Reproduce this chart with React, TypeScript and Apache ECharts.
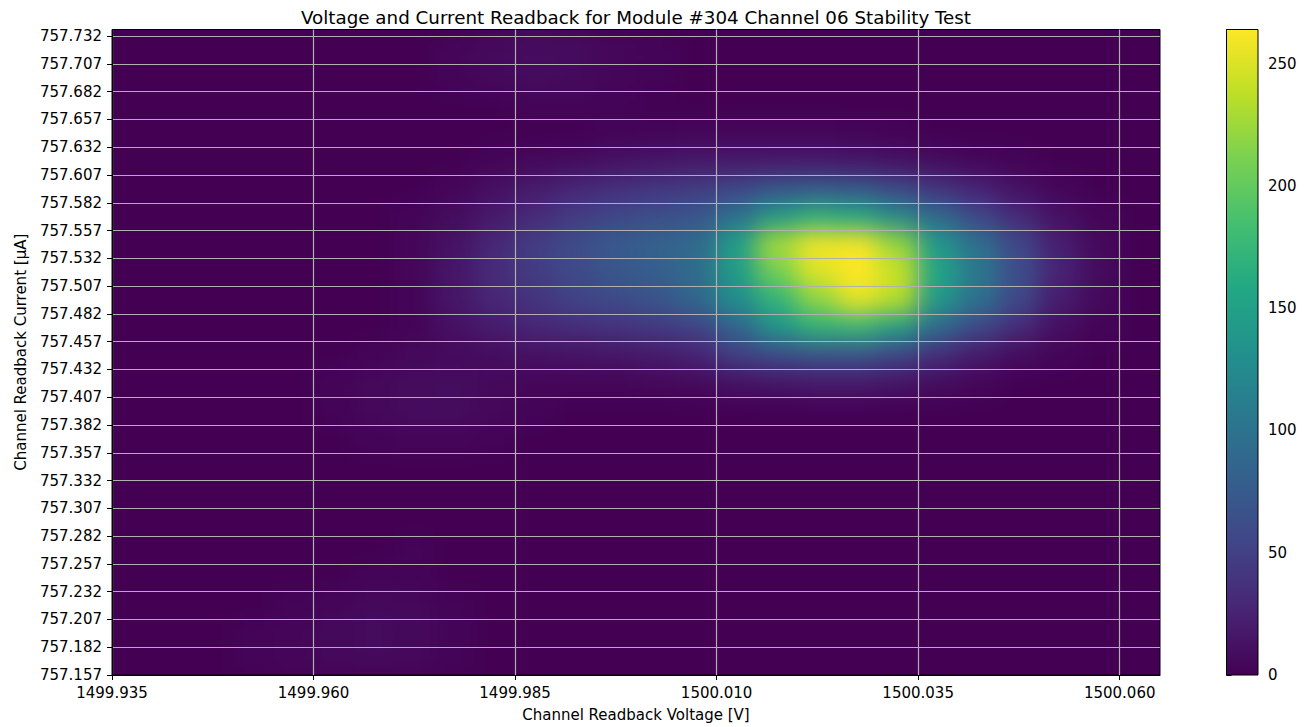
import React, { useEffect, useRef } from "react";
import * as echarts from "echarts";

// ---------- data ----------
const X_MIN = 1499.935;
const X_MAX = 1500.065;
const Y_MIN = 757.157;
const Y_MAX = 757.738;

const xTicks = [1499.935, 1499.96, 1499.985, 1500.01, 1500.035, 1500.06];
const yTicks = [
  757.157, 757.182, 757.207, 757.232, 757.257, 757.282, 757.307, 757.332,
  757.357, 757.382, 757.407, 757.432, 757.457, 757.482, 757.507, 757.532,
  757.557, 757.582, 757.607, 757.632, 757.657, 757.682, 757.707, 757.732,
];
const cbTicks = [0, 50, 100, 150, 200, 250];
const CB_MAX = 264;

// voltage bin centres [V]
const voltageBins = [
  1499.9375, 1499.9425, 1499.9475, 1499.9525, 1499.9575, 1499.9625, 1499.9675,
  1499.9725, 1499.9775, 1499.9825, 1499.9875, 1499.9925, 1499.9975, 1500.0025,
  1500.0075, 1500.0125, 1500.0175, 1500.0225, 1500.0275, 1500.0325, 1500.0375,
  1500.0425, 1500.0475, 1500.0525, 1500.0575, 1500.0625,
];
// current bin centres [uA], bottom to top
const currentBins = [
  757.1695, 757.1945, 757.2195, 757.2445, 757.2695, 757.2945, 757.3195,
  757.3445, 757.3695, 757.3945, 757.4195, 757.4445, 757.4695, 757.4945,
  757.5195, 757.5445, 757.5695, 757.5945, 757.6195, 757.6445, 757.6695,
  757.6945, 757.7195, 757.7445,
];
// counts, rows listed from top (757.7445) to bottom (757.1695)
const counts = [
  [0,0,0,0,0,0,0,0,0,4,5,4,0,0,0,0,0,0,0,0,0,0,0,0,0,0],
  [0,0,0,0,0,0,0,0,4,7,9,8,5,3,0,0,0,0,0,0,0,0,0,0,0,0],
  [0,0,0,0,0,0,0,0,3,6,8,7,4,2,0,0,0,0,0,0,0,0,0,0,0,0],
  [0,0,0,0,0,0,0,0,0,0,3,3,2,0,0,0,0,0,0,0,0,0,0,0,0,0],
  [0,0,0,0,0,0,0,0,0,0,0,0,2,3,4,4,4,4,3,2,0,0,0,0,0,0],
  [0,0,0,0,0,0,0,0,0,3,5,8,12,15,17,18,18,18,16,12,8,4,2,0,0,0],
  [0,0,0,0,0,0,0,0,4,11,20,29,36,42,46,56,70,75,72,58,40,26,12,4,0,0],
  [0,0,0,0,0,0,0,3,9,18,32,46,57,64,70,98,142,166,158,124,90,57,31,12,4,0],
  [0,0,0,0,0,0,0,4,13,30,48,62,74,82,92,148,228,260,262,222,140,98,57,23,6,0],
  [0,0,0,0,0,0,0,4,16,32,46,58,70,78,92,145,208,250,264,242,155,104,62,26,8,0],
  [0,0,0,0,0,0,0,3,16,28,40,52,60,68,88,128,170,218,254,234,140,98,57,21,6,0],
  [0,0,0,0,0,0,0,3,12,20,28,34,38,43,52,84,135,168,172,145,90,57,31,10,3,0],
  [0,0,0,0,0,0,3,5,6,8,11,13,15,19,25,48,60,66,66,54,33,18,8,3,0,0],
  [0,0,0,0,0,3,5,8,9,6,4,4,4,5,6,12,15,18,18,14,8,4,0,0,0,0],
  [0,0,0,0,0,2,5,8,8,5,2,0,0,0,0,0,0,0,0,0,0,0,0,0,0,0],
  [0,0,0,0,0,0,3,4,4,2,0,0,0,0,0,0,0,0,0,0,0,0,0,0,0,0],
  [0,0,0,0,0,0,0,0,0,0,0,0,0,0,0,0,0,0,0,0,0,0,0,0,0,0],
  [0,0,0,0,0,0,0,0,0,0,0,0,0,0,0,0,0,0,0,0,0,0,0,0,0,0],
  [0,0,0,0,0,0,0,0,0,0,0,0,0,0,0,0,0,0,0,0,0,0,0,0,0,0],
  [0,0,0,0,0,0,0,2,0,0,0,0,0,0,0,0,0,0,0,0,0,0,0,0,0,0],
  [0,0,0,0,0,0,3,3,0,0,0,0,0,0,0,0,0,0,0,0,0,0,0,0,0,0],
  [0,0,0,0,2,4,6,5,2,0,0,0,0,0,0,0,0,0,0,0,0,0,0,0,0,0],
  [0,0,0,2,4,6,8,6,3,0,0,0,0,0,0,0,0,0,0,0,0,0,0,0,0,0],
  [0,0,0,2,4,5,6,5,2,0,0,0,0,0,0,0,0,0,0,0,0,0,0,0,0,0],
];

const TITLE = "Voltage and Current Readback for Module #304 Channel 06 Stability Test";
const X_NAME = "Channel Readback Voltage [V]";
const Y_NAME = "Channel Readback Current [μA]";

// ---------- style / layout ----------
const VIRIDIS = [
  "#440154", "#482475", "#414487", "#355f8d", "#2a788e", "#21918c",
  "#22a884", "#44bf70", "#7ad151", "#bddf26", "#fde725",
];
const W = 1314;
const H = 727;
const PLOT = { left: 112, top: 29.5, width: 1048, height: 645.5 };
const CBAR = { left: 1226.5, top: 29.5, width: 31.5, height: 645.5 };
const FONT = "DejaVu Sans";
const BLUR = 12;

export default function App() {
  const heatRef = useRef<HTMLDivElement>(null);
  const axesRef = useRef<HTMLDivElement>(null);

  useEffect(() => {
    if (!heatRef.current || !axesRef.current) return;
    const heat = echarts.init(heatRef.current, null, { renderer: "svg" });
    const axes = echarts.init(axesRef.current, null, { renderer: "svg" });

    const pxPerY = PLOT.height / (Y_MAX - Y_MIN);
    const rowStep = currentBins[1] - currentBins[0];
    const cellsHeight = currentBins.length * rowStep * pxPerY;
    const cellsTop = PLOT.top + PLOT.height - cellsHeight;

    const nRows = counts.length;
    const data: number[][] = [];
    counts.forEach((row, r) => {
      row.forEach((v, c) => data.push([c, nRows - 1 - r, v]));
    });

    heat.setOption({
      animation: false,
      backgroundColor: VIRIDIS[0],
      grid: { left: PLOT.left, top: cellsTop, width: PLOT.width, height: cellsHeight },
      xAxis: { type: "category", data: voltageBins.map(String), show: false },
      yAxis: { type: "category", data: currentBins.map(String), show: false },
      visualMap: {
        show: false,
        min: 0,
        max: CB_MAX,
        dimension: 2,
        inRange: { color: VIRIDIS },
      },
      series: [
        {
          type: "heatmap",
          data,
          progressive: 0,
          itemStyle: { borderWidth: 0 },
          emphasis: { disabled: true },
        },
      ],
    });

    const labelStyle = { color: "#000", fontSize: 15, fontFamily: FONT };
    const gradStops = VIRIDIS.map((c, i) => ({ offset: i / (VIRIDIS.length - 1), color: c }));
    const gridLine = { show: true, lineStyle: { color: "#b0b0b0", width: 1.2 } };

    axes.setOption({
      animation: false,
      backgroundColor: "transparent",
      graphic: [
        {
          type: "text",
          x: PLOT.left + PLOT.width / 2,
          y: 17.7,
          style: {
            text: TITLE,
            fill: "#000",
            font: `18.3px "${FONT}"`,
            textAlign: "center",
            textVerticalAlign: "middle",
            align: "center",
            verticalAlign: "middle",
          },
        },
        {
          type: "rect",
          shape: { x: CBAR.left, y: CBAR.top, width: CBAR.width, height: CBAR.height },
          style: {
            fill: new echarts.graphic.LinearGradient(0, 1, 0, 0, gradStops),
            stroke: "#000",
            lineWidth: 1,
          },
          z: 10,
        },
      ],
      grid: [
        {
          ...PLOT,
          show: true,
          borderColor: "#000",
          borderWidth: 1,
          backgroundColor: "transparent",
        },
        { ...CBAR, show: false },
      ],
      xAxis: [
        {
          gridIndex: 0,
          type: "value",
          min: X_MIN,
          max: X_MAX,
          position: "bottom",
          axisLine: { show: true, onZero: false, lineStyle: { color: "#000", width: 1 } },
          axisTick: { show: true, length: 5, customValues: xTicks, lineStyle: { color: "#000", width: 1 } },
          axisLabel: {
            ...labelStyle,
            customValues: xTicks,
            margin: 10,
            formatter: (v: number) => v.toFixed(3),
          },
          splitLine: gridLine,
          name: X_NAME,
          nameLocation: "middle",
          nameGap: 32,
          nameTextStyle: labelStyle,
        },
        { gridIndex: 1, type: "value", min: 0, max: 1, show: false },
      ],
      yAxis: [
        {
          gridIndex: 0,
          type: "value",
          min: Y_MIN,
          max: Y_MAX,
          position: "left",
          axisLine: { show: true, onZero: false, lineStyle: { color: "#000", width: 1 } },
          axisTick: { show: true, length: 5, customValues: yTicks, lineStyle: { color: "#000", width: 1 } },
          axisLabel: {
            ...labelStyle,
            customValues: yTicks,
            margin: 10,
            formatter: (v: number) => v.toFixed(3),
          },
          splitLine: gridLine,
          name: Y_NAME,
          nameLocation: "middle",
          nameGap: 84,
          nameTextStyle: labelStyle,
        },
        {
          gridIndex: 1,
          type: "value",
          min: 0,
          max: CB_MAX,
          position: "right",
          axisLine: { show: true, lineStyle: { color: "#000", width: 1 } },
          axisTick: { show: true, length: 5, customValues: cbTicks, lineStyle: { color: "#000", width: 1 } },
          axisLabel: {
            ...labelStyle,
            customValues: cbTicks,
            margin: 10,
            formatter: (v: number) => String(Math.round(v)),
          },
          splitLine: { show: false },
        },
      ],
      series: [],
    });

    return () => {
      heat.dispose();
      axes.dispose();
    };
  }, []);

  return (
    <div style={{ position: "absolute", left: 0, top: 0, width: W, height: H, background: "#fff", overflow: "hidden" }}>
      <div
        style={{
          position: "absolute",
          left: PLOT.left,
          top: PLOT.top,
          width: PLOT.width,
          height: PLOT.height,
          overflow: "hidden",
        }}
      >
        <div
          ref={heatRef}
          style={{
            position: "absolute",
            left: -PLOT.left,
            top: -PLOT.top,
            width: W,
            height: H,
            background: VIRIDIS[0],
            filter: `blur(${BLUR}px)`,
          }}
        />
      </div>
      <div ref={axesRef} style={{ position: "absolute", left: 0, top: 0, width: W, height: H }} />
    </div>
  );
}
